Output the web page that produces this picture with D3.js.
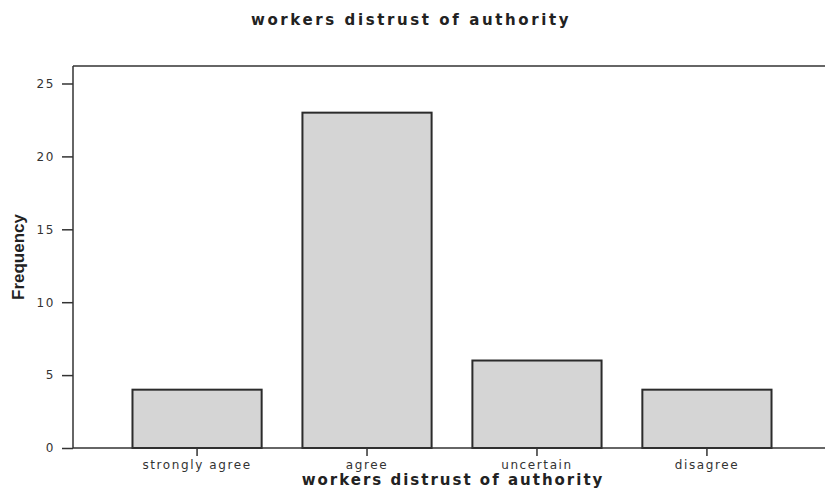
<!DOCTYPE html>
<html>
<head>
<meta charset="utf-8">
<script src="https://cdn.jsdelivr.net/npm/d3@7"></script>
<style>
  body { margin: 0; background: #fff; }
  svg { display: block; }
  .tick text { font-family: 'DejaVu Sans', Verdana, sans-serif; font-size: 12px; letter-spacing: 1.6px; fill: #333; }
</style>
</head>
<body>
<script>
// chart data
var categories = ["strongly agree", "agree", "uncertain", "disagree"];
var counts = [4, 23, 6, 4];
var yTicks = [0, 5, 10, 15, 20, 25];
var chartTitle = "workers distrust of authority";
var xTitle = "workers distrust of authority";
var yTitle = "Frequency";

var width = 825, height = 491;
var margin = { top: 66, right: -6, bottom: 43, left: 73 };

var svg = d3.select("body").append("svg")
  .attr("width", width)
  .attr("height", height);

var x = d3.scaleBand()
  .domain(categories)
  .range([margin.left, width - margin.right])
  .paddingInner(0.24)
  .paddingOuter(0.35);

var y = d3.scaleLinear()
  .domain([0, 26.2])
  .range([height - margin.bottom, margin.top]);

// frame top line
svg.append("line")
  .attr("x1", margin.left).attr("x2", width)
  .attr("y1", margin.top).attr("y2", margin.top)
  .attr("stroke", "#333").attr("stroke-width", 1.5);

// bars
svg.selectAll("rect.bar")
  .data(categories)
  .enter()
  .append("rect")
  .attr("class", "bar")
  .attr("x", d => x(d))
  .attr("width", x.bandwidth())
  .attr("y", (d, i) => y(counts[i]))
  .attr("height", (d, i) => y(0) - y(counts[i]))
  .attr("fill", "#d5d5d5")
  .attr("stroke", "#2b2b2b")
  .attr("stroke-width", 2);

// y axis
var yAxis = svg.append("g")
  .attr("transform", `translate(${margin.left},0)`)
  .call(d3.axisLeft(y).tickValues(yTicks).tickSize(11).tickPadding(7).tickSizeOuter(0));
yAxis.select(".domain").attr("stroke", "#333").attr("stroke-width", 1.5)
  .attr("d", `M0,${y(0)}V${margin.top}`);
yAxis.selectAll(".tick line").attr("stroke", "#333").attr("stroke-width", 1.5);

// x axis
var xAxis = svg.append("g")
  .attr("transform", `translate(0,${y(0)})`)
  .call(d3.axisBottom(x).tickSize(8).tickPadding(4).tickSizeOuter(0));
xAxis.select(".domain").attr("stroke", "#333").attr("stroke-width", 1.5)
  .attr("d", `M${margin.left},0H${width}`);
xAxis.selectAll(".tick line").attr("stroke", "#333").attr("stroke-width", 1.5);

// titles
svg.append("text")
  .attr("x", 411).attr("y", 25)
  .attr("text-anchor", "middle")
  .style("font-family", "'DejaVu Sans', Verdana, sans-serif")
  .style("font-weight", "bold")
  .style("font-size", "15px")
  .style("letter-spacing", "2.6px")
  .attr("fill", "#222")
  .text(chartTitle);

svg.append("text")
  .attr("x", 453).attr("y", 485)
  .attr("text-anchor", "middle")
  .style("font-family", "'DejaVu Sans', Verdana, sans-serif")
  .style("font-weight", "bold")
  .style("font-size", "15px")
  .style("letter-spacing", "2px")
  .attr("fill", "#222")
  .text(xTitle);

svg.append("text")
  .attr("transform", `translate(24,${257}) rotate(-90)`)
  .attr("text-anchor", "middle")
  .style("font-family", "'Liberation Sans', Arial, sans-serif")
  .style("font-weight", "bold")
  .style("font-size", "17px")
  .attr("fill", "#222")
  .text(yTitle);
</script>
</body>
</html>
